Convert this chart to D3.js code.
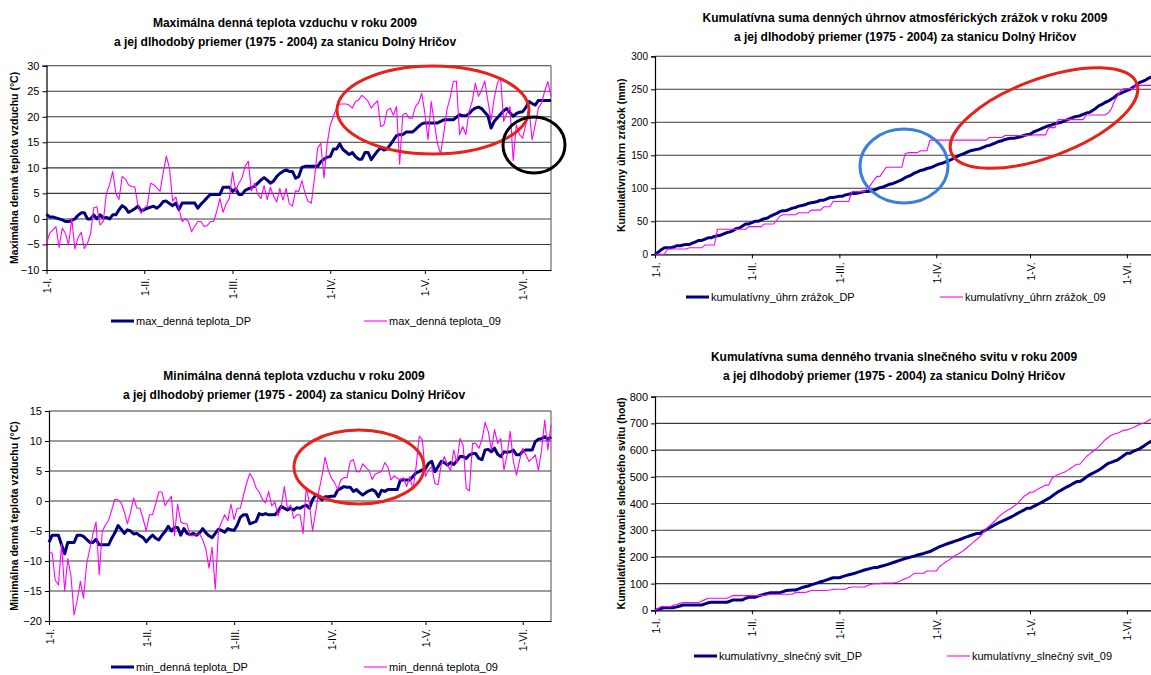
<!DOCTYPE html>
<html><head><meta charset="utf-8">
<script src="https://cdn.jsdelivr.net/npm/d3@7"></script>
<style>
html,body{margin:0;padding:0;background:#fff;}
svg{display:block;font-family:Arial,"Liberation Sans",sans-serif;}
</style></head><body>
<svg id="chart" width="1151" height="675"></svg>
<script>
// Day index 0 = 1 January 2009; month starts used as category labels
const monthTicks = [0, 31, 59, 90, 120, 151];
const monthLabels = ["1-I.", "1-II.", "1-III.", "1-IV.", "1-V.", "1-VI."];

// Y-axis tick values per chart
const maxTempTicks = [-10, -5, 0, 5, 10, 15, 20, 25, 30];
const minTempTicks = [-20, -15, -10, -5, 0, 5, 10, 15];
const precipTicks = [0, 50, 100, 150, 200, 250, 300];
const sunTicks = [0, 100, 200, 300, 400, 500, 600, 700, 800];

// Maximum daily air temperature (°C): long-term mean 1975-2004 and 2009
const maxTempDP = [0.9,0.4,0.4,0.2,0,-0.2,-0.5,-0.5,-0.3,0,
 0.7,1.2,1.2,0,0,0.8,0,0.8,0.2,0.3,
 0,0.8,0.8,1.8,2.6,2.2,1.3,1.6,2.0,2.5,
 1.6,1.8,2.1,2.3,2.5,2.1,2.6,3.4,3.5,3.0,
 2.6,3.1,1.8,3.1,3.1,3.1,3.1,3.1,2.1,2.9,
 3.5,4.2,4.8,4.8,4.8,4.8,6.2,6.2,6.2,5.4,
 5.9,4.8,4.8,5.6,5.9,6.1,6.4,7.0,7.6,8.1,
 7.6,7.0,7.4,8.3,8.9,9.3,9.6,9.3,9.3,8.0,
 8.3,10.1,10.3,10.3,10.3,10.3,10.3,11.2,11.7,12.1,
 12.2,13.7,13.7,14.7,13.6,13.1,12.6,13.0,12.2,11.7,
 11.7,13.0,13.0,11.6,12.5,13.3,13.9,13.5,13.7,14.5,
 15.4,16.3,16.5,16.5,17.0,17.0,17.0,17.5,18.1,18.6,
 18.8,18.8,18.8,18.8,18.8,19.1,19.4,19.4,19.4,19.4,
 19.9,20.4,20.2,20.2,20.6,21.3,21.7,21.9,21.6,20.9,
 20.2,17.8,19.1,19.8,20.5,21.2,21.6,20.8,20.1,20.6,
 20.9,21.0,21.8,23.0,22.6,22.3,23.2,23.2,23.2,23.2,
 23.2];
const maxTemp09 = [-4.8,-2.8,-2.2,-1.5,-5.6,-1.8,-2.8,-5.1,0.1,-5.9,
 -3.7,-2.6,-5.8,-4.8,-2.8,2.2,2.4,-1.2,-0.5,5.0,
 6.7,9.3,5.0,3.8,8.3,7.8,6.7,6.3,6.3,2.7,
 1.1,2.1,2.7,7.0,6.7,6.1,5.4,9.0,12.3,10.0,
 3.5,4.3,2.0,-0.5,0.0,-0.5,-2.5,-1.5,-0.5,-0.5,
 -1.5,-1.3,-0.5,-0.5,1.5,4.0,1.3,3.0,4.0,9.2,
 5.4,7.0,8.0,10.3,11.3,5.5,7.0,4.8,4.0,6.5,
 3.8,6.2,4.5,3.3,6.0,3.7,6.0,3.0,2.5,5.5,
 5.4,7.5,5.0,3.4,3.1,8.0,13.9,14.8,8.0,14.7,
 18.4,20.1,21.7,22.5,22.5,22.5,22.3,21.7,23.0,23.3,
 24.2,23.7,23.0,21.7,22.5,23.1,18.1,18.4,21.2,21.7,
 20.3,22.0,10.7,20.4,20.7,19.7,19.7,22.0,22.7,24.6,
 20.7,15.5,23.0,18.8,14.8,12.7,16.8,21.4,23.7,26.9,
 27.0,16.5,18.1,16.5,21.0,23.0,26.6,24.0,25.3,27.0,
 23.0,19.4,23.7,26.6,27.7,19.1,20.7,22.0,11.4,18.4,
 16.5,15.8,18.4,21.7,15.5,18.4,21.7,22.7,25.0,26.9,
 24.0];

// Minimum daily air temperature (°C)
const minTempDP = [-6.9,-5.7,-5.7,-5.7,-7.3,-8.8,-6.9,-6.9,-6.9,-5.7,
 -5.7,-5.9,-6.4,-6.9,-6.9,-6.4,-7.3,-7.3,-7.3,-7.3,
 -6.2,-5.3,-4.1,-4.7,-5.4,-4.8,-5.0,-5.5,-5.4,-5.8,
 -6.1,-6.8,-6.2,-5.7,-6.2,-6.5,-5.7,-5.1,-4.2,-5.0,
 -4.4,-4.4,-5.7,-4.6,-5.4,-5.6,-5.4,-5.7,-5.3,-4.6,
 -5.3,-5.8,-6.1,-5.4,-4.7,-4.9,-5.2,-4.6,-4.8,-4.9,
 -4.0,-2.7,-2.3,-2.3,-3.8,-3.6,-3.4,-2.1,-2.3,-2.1,
 -2.3,-2.3,-2.3,-1.7,-0.9,-1.2,-1.5,-1.2,-1.5,-1.1,
 -1.2,-0.9,-0.7,-1.2,0.2,1.0,0.7,0.2,0.7,0.7,
 0.8,0.8,1.8,2.1,2.4,2.3,2.3,1.6,1.9,1.4,
 1.0,1.4,1.7,1.9,1.6,0.7,1.8,1.6,1.9,1.9,
 1.9,1.9,3.5,3.5,3.5,3.5,4.1,4.7,4.9,5.2,
 5.4,6.3,6.6,4.9,5.7,6.6,6.4,6.0,6.4,6.1,
 6.7,7.4,7.4,7.1,7.7,7.9,7.9,7.1,6.9,8.5,
 8.6,8.2,8.8,7.8,7.4,8.2,8.1,8.2,8.5,7.7,
 7.7,8.3,8.5,8.5,8.5,9.9,10.3,10.4,10.7,10.3,
 10.7];
const minTemp09 = [-8.4,-8.7,-13.2,-14.0,-7.2,-15.0,-9.6,-12.5,-19.0,-16.5,
 -13.4,-16.2,-10.5,-8.0,-5.5,-3.5,-12.3,-5.0,-4.0,-3.2,
 -1.5,0.3,0.2,-0.3,-1.8,-3.8,-1.8,0.5,-1.2,-1.2,
 -3.0,-5.0,-2.3,-2.3,-0.5,1.5,1.5,-0.8,0.0,0.8,
 -5.8,-0.5,-3.5,-3.8,-3.8,-5.8,-5.8,-5.5,-5.5,-6.5,
 -8.0,-11.2,-7.7,-14.7,-5.0,-3.5,-2.3,-3.3,-0.5,-3.1,
 -1.2,-1.2,1.0,3.0,4.6,3.7,2.2,1.5,0.3,-0.3,
 1.6,-0.8,-0.2,-2.5,-1.0,2.4,-1.2,-0.7,-2.9,-2.3,
 -2.3,-5.4,2.3,-0.4,-5.0,-1.8,1.6,4.1,7.3,5.2,
 3.8,3.1,1.9,3.5,3.9,3.9,6.6,6.9,4.9,4.9,
 6.2,5.6,5.1,3.6,4.5,4.7,4.9,6.4,5.7,3.5,
 4.2,3.8,3.5,3.9,2.4,4.1,1.9,5.7,10.8,10.2,
 4.1,5.2,5.7,2.9,2.7,6.0,7.4,6.0,5.1,8.5,
 6.3,10.4,9.3,2.1,1.7,9.6,9.6,8.8,10.2,13.1,
 11.6,8.5,11.9,9.6,10.4,5.2,7.7,11.6,6.6,4.3,
 6.8,8.8,7.7,6.6,7.1,7.7,5.1,8.5,13.5,8.5,
 12.7];

// Cumulative precipitation (mm)
const precipDP = [0,3,7,10,10,10,11,13,13,14,
 15,15,17,19,21,21,23,25,25,27,
 28,29,31,33,34,36,39,40,43,46,
 46,48,50,50,52,54,55,58,60,62,
 65,66,66,68,70,71,73,74,75,77,
 78,79,80,82,82,84,86,86,87,88,
 88,90,91,92,92,93,94,95,95,96,
 97,99,101,102,104,106,107,109,111,113,
 116,118,120,123,125,127,128,130,131,133,
 135,137,138,140,142,144,147,149,151,153,
 155,157,158,159,160,162,164,165,167,169,
 171,172,174,175,176,176,177,178,180,181,
 182,185,187,189,191,193,195,196,198,199,
 200,202,204,206,208,209,210,212,214,215,
 218,221,225,227,230,232,235,238,242,244,
 246,248,250,253,256,260,262,264,267,269,
 271];
const precip09 = [0,0,0,0,8,8,8,8,8,8,
 8,10,10,10,10,10,14,14,14,14,
 38,38,38,38,38,38,38,38,38,38,
 42,42,42,42,42,46,46,46,46,52,
 58,60,60,60,60,60,63,63,63,63,
 67,67,67,67,72,72,72,80,80,80,
 80,80,80,95,95,95,95,95,100,105,
 112,118,118,125,132,132,132,132,132,132,
 152,154,154,154,154,157,157,157,173,173,
 173,173,173,173,173,173,173,173,173,173,
 173,173,173,173,173,173,173,177,177,177,
 177,177,180,180,180,180,180,180,180,180,
 180,181,181,181,181,181,192,192,192,204,
 204,204,204,204,204,204,204,204,211,211,
 211,211,211,211,211,214,220,232,240,248,
 251,251,251,251,256,256,256,256,256,256,
 256];

// Cumulative sunshine duration (hours)
const sunDP = [0,3,7,10,10,10,10,13,16,20,
 20,20,20,20,20,20,24,28,30,30,
 30,30,30,30,34,39,39,39,39,45,
 49,49,49,53,57,60,63,66,66,66,
 66,70,74,75,76,76,80,85,88,91,
 95,99,103,107,110,114,118,122,122,122,
 126,130,133,136,139,143,147,151,154,157,
 160,160,164,167,170,174,178,182,186,190,
 194,197,200,203,207,210,213,217,220,226,
 232,238,242,247,251,255,259,263,267,272,
 276,280,284,288,288,295,302,309,315,322,
 328,333,339,344,350,356,363,369,375,382,
 382,388,394,400,406,413,419,427,436,444,
 450,457,463,469,476,482,482,490,499,507,
 513,519,525,533,542,550,554,559,563,571,
 580,588,588,595,600,605,612,620,628,634,
 640];
const sun09 = [0,7,14,14,14,14,20,22,26,29,
 29,29,29,29,29,35,40,45,45,45,
 45,45,45,45,50,55,55,55,55,55,
 55,55,55,55,55,55,58,60,60,60,
 60,60,60,60,60,67,67,67,67,70,
 74,74,74,74,74,74,76,78,79,79,
 79,79,85,87,87,87,87,87,93,97,
 100,100,100,102,102,102,102,104,107,113,
 118,122,130,139,139,139,139,147,147,147,
 147,163,172,181,188,196,205,211,218,226,
 236,246,256,266,276,290,305,316,326,338,
 351,360,369,376,382,391,400,413,426,434,
 442,442,450,457,463,469,469,494,502,509,
 513,517,524,532,540,547,547,562,575,585,
 594,603,613,625,638,647,656,660,663,669,
 675,675,680,684,690,696,700,704,712,719,
 725];

const NAVY = "#000080", PINK = "#ff00ff", GRID = "#3a3a3a";
const svg = d3.select("#chart");

const panels = [
  {
    title: ["Maximálna denná teplota vzduchu v roku 2009",
            "a jej dlhodobý priemer (1975 - 2004) za stanicu Dolný Hričov"],
    yTitle: "Maximálna denná teplota vzduchu (°C)",
    dp: maxTempDP, y09: maxTemp09, ticks: maxTempTicks,
    legend: ["max_denná teplota_DP", "max_denná teplota_09"],
    x0: 46.5, x1: 551, yTop: 65.7, yBot: 270, border: true,
    titleX: 285, titleY: 23, yTitleX: 14, tickFont: 11,
    legendY: 321, legendX: [111, 364],
    rings: [
      {cx: 433, cy: 110, rx: 96, ry: 44, rot: 0, color: "#e5231b"},
      {cx: 534, cy: 145, rx: 31, ry: 28, rot: 0, color: "#000000"}
    ]
  },
  {
    title: ["Kumulatívna suma denných úhrnov atmosférických zrážok v roku 2009",
            "a jej dlhodobý priemer (1975 - 2004) za stanicu Dolný Hričov"],
    yTitle: "Kumulatívny úhrn zrážok (mm)",
    dp: precipDP, y09: precip09, ticks: precipTicks,
    legend: ["kumulatívny_úhrn zrážok_DP", "kumulatívny_úhrn zrážok_09"],
    x0: 655, x1: 1155, yTop: 56.3, yBot: 254.3, border: false,
    titleX: 905, titleY: 18, yTitleX: 621, tickFont: 10,
    legendY: 297, legendX: [686, 940],
    rings: [
      {cx: 904, cy: 166, rx: 44, ry: 37, rot: 0, color: "#3b7de0"},
      {cx: 1044, cy: 118, rx: 99, ry: 39, rot: -20.4, color: "#e5231b"}
    ]
  },
  {
    title: ["Minimálna denná teplota vzduchu v roku 2009",
            "a jej dlhodobý priemer (1975 - 2004) za stanicu Dolný Hričov"],
    yTitle: "Minimálna denná teplota vzduchu (°C)",
    dp: minTempDP, y09: minTemp09, ticks: minTempTicks,
    legend: ["min_denná teplota_DP", "min_denná teplota_09"],
    x0: 49, x1: 551, yTop: 411, yBot: 621, border: true,
    titleX: 294, titleY: 376, yTitleX: 14, tickFont: 11,
    legendY: 667, legendX: [111, 364],
    rings: [
      {cx: 359, cy: 467, rx: 65, ry: 37, rot: 0, color: "#e5231b"}
    ]
  },
  {
    title: ["Kumulatívna suma denného trvania slnečného svitu v roku 2009",
            "a jej dlhodobý priemer (1975 - 2004) za stanicu Dolný Hričov"],
    yTitle: "Kumulatívne trvanie slnečného svitu (hod)",
    dp: sunDP, y09: sun09, ticks: sunTicks,
    legend: ["kumulatívny_slnečný svit_DP", "kumulatívny_slnečný svit_09"],
    x0: 655, x1: 1155, yTop: 396.7, yBot: 610.3, border: false,
    titleX: 894, titleY: 357, yTitleX: 621, tickFont: 11,
    legendY: 656, legendX: [694, 947],
    rings: []
  }
];

panels.forEach(p => {
  const g = svg.append("g");
  const n = p.dp.length;
  const x = d3.scaleLinear().domain([0, n - 1]).range([p.x0, p.x1]);
  const y = d3.scaleLinear().domain(d3.extent(p.ticks)).range([p.yBot, p.yTop]);

  // horizontal gridlines
  g.selectAll("line.grid").data(p.ticks.slice(1)).join("line")
    .attr("x1", p.x0).attr("x2", p.x1)
    .attr("y1", d => y(d)).attr("y2", d => y(d))
    .attr("stroke", GRID).attr("stroke-width", 1.1);

  if (p.border) {
    g.append("line").attr("x1", p.x1).attr("x2", p.x1)
      .attr("y1", p.yTop).attr("y2", p.yBot)
      .attr("stroke", "#6a6a6a").attr("stroke-width", 1.2);
  }

  // y axis
  const yAxis = d3.axisLeft(y).tickValues(p.ticks).tickSize(4).tickPadding(3);
  const ya = g.append("g").attr("transform", `translate(${p.x0},0)`).call(yAxis);
  ya.select(".domain").attr("stroke", "#000").attr("stroke-width", 1.2);
  ya.selectAll(".tick line").attr("stroke", "#000");
  ya.selectAll(".tick text").attr("font-size", p.tickFont).attr("fill", "#000")
    .attr("font-family", "Arial, 'Liberation Sans', sans-serif");

  // x axis with rotated month labels
  const xAxis = d3.axisBottom(x).tickValues(monthTicks)
    .tickFormat((d, i) => monthLabels[i]).tickSize(4).tickSizeOuter(0);
  const xa = g.append("g").attr("transform", `translate(0,${p.yBot})`).call(xAxis);
  xa.select(".domain").attr("stroke", "#000").attr("stroke-width", 1.2);
  xa.selectAll(".tick line").attr("stroke", "#000");
  xa.selectAll(".tick text")
    .attr("font-size", 10.5).attr("fill", "#000")
    .attr("font-family", "Arial, 'Liberation Sans', sans-serif")
    .attr("text-anchor", "end")
    .attr("dy", null).attr("y", 0)
    .attr("dominant-baseline", "central")
    .attr("transform", "translate(0,8) rotate(-90)");

  // data lines
  const line = d3.line().x((d, i) => x(i)).y(d => y(d));
  g.append("path").datum(p.dp).attr("d", line)
    .attr("fill", "none").attr("stroke", NAVY).attr("stroke-width", 3)
    .attr("stroke-linejoin", "round");
  g.append("path").datum(p.y09).attr("d", line)
    .attr("fill", "none").attr("stroke", PINK).attr("stroke-width", 1.1)
    .attr("stroke-linejoin", "round");

  // highlight rings
  p.rings.forEach(r => {
    g.append("ellipse")
      .attr("cx", 0).attr("cy", 0).attr("rx", r.rx).attr("ry", r.ry)
      .attr("transform", `translate(${r.cx},${r.cy}) rotate(${r.rot})`)
      .attr("fill", "none").attr("stroke", r.color).attr("stroke-width", 3);
  });

  // titles
  p.title.forEach((t, i) => {
    g.append("text").text(t)
      .attr("x", p.titleX).attr("y", p.titleY + i * 19)
      .attr("text-anchor", "middle").attr("dominant-baseline", "central")
      .attr("font-weight", "bold").attr("font-size", 12);
  });
  g.append("text").text(p.yTitle)
    .attr("transform", `translate(${p.yTitleX},${(p.yTop + p.yBot) / 2}) rotate(-90)`)
    .attr("text-anchor", "middle").attr("dominant-baseline", "central")
    .attr("font-weight", "bold").attr("font-size", 10.5);

  // legend
  [[NAVY, 3], [PINK, 1.1]].forEach(([c, w], i) => {
    const lx = p.legendX[i];
    g.append("line").attr("x1", lx).attr("x2", lx + 23)
      .attr("y1", p.legendY).attr("y2", p.legendY)
      .attr("stroke", c).attr("stroke-width", w);
    g.append("text").text(p.legend[i])
      .attr("x", lx + 25).attr("y", p.legendY)
      .attr("dominant-baseline", "central").attr("font-size", 11);
  });
});
</script>
</body></html>
